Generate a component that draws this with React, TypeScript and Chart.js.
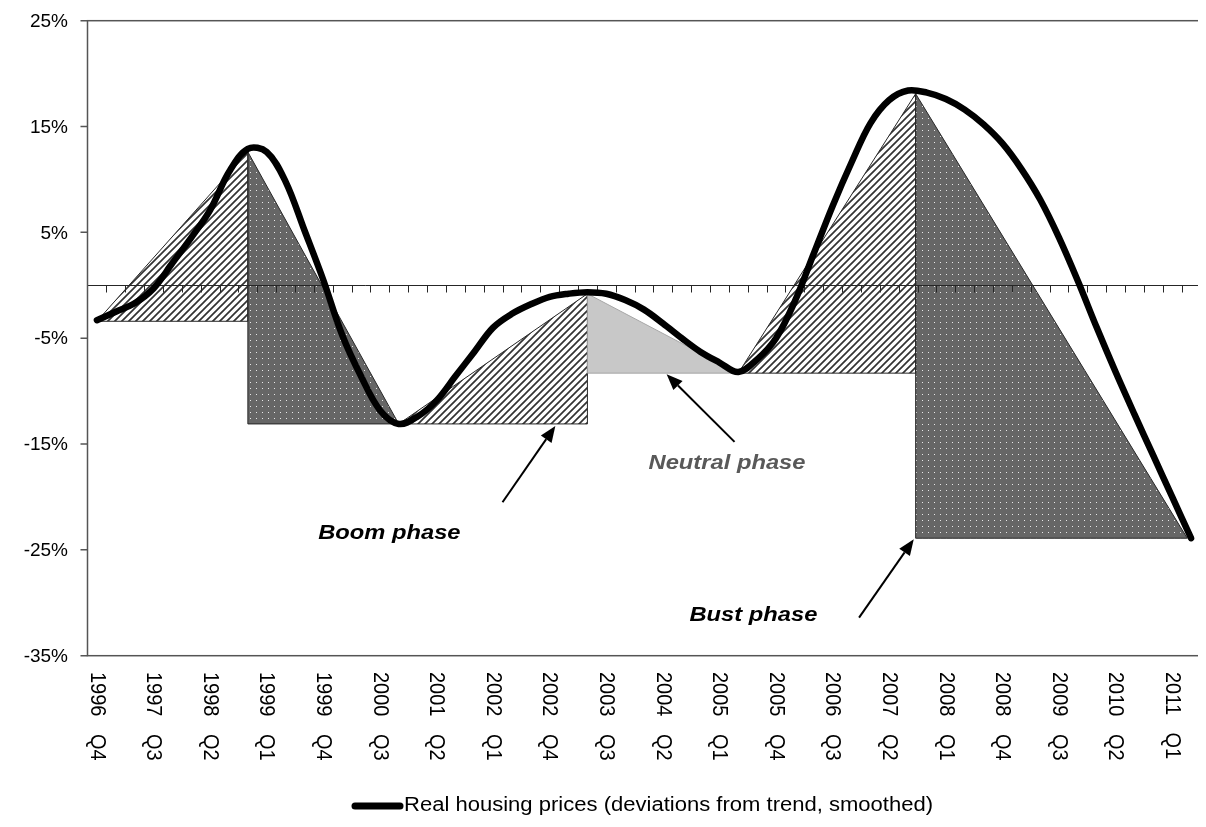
import React, { useEffect, useRef } from 'react';
import { Chart, registerables } from 'chart.js';

Chart.register(...registerables);

// ---------------- data ----------------
const quarters = [
  '1996 Q4',
  '1997 Q1', '1997 Q2', '1997 Q3', '1997 Q4',
  '1998 Q1', '1998 Q2', '1998 Q3', '1998 Q4',
  '1999 Q1', '1999 Q2', '1999 Q3', '1999 Q4',
  '2000 Q1', '2000 Q2', '2000 Q3', '2000 Q4',
  '2001 Q1', '2001 Q2', '2001 Q3', '2001 Q4',
  '2002 Q1', '2002 Q2', '2002 Q3', '2002 Q4',
  '2003 Q1', '2003 Q2', '2003 Q3', '2003 Q4',
  '2004 Q1', '2004 Q2', '2004 Q3', '2004 Q4',
  '2005 Q1', '2005 Q2', '2005 Q3', '2005 Q4',
  '2006 Q1', '2006 Q2', '2006 Q3', '2006 Q4',
  '2007 Q1', '2007 Q2', '2007 Q3', '2007 Q4',
  '2008 Q1', '2008 Q2', '2008 Q3', '2008 Q4',
  '2009 Q1', '2009 Q2', '2009 Q3', '2009 Q4',
  '2010 Q1', '2010 Q2', '2010 Q3', '2010 Q4',
  '2011 Q1', '2011 Q2',
];
const labelEvery = 3;

// Real housing prices, deviation from trend (%), smoothed
const housePrices = [
  -3.3, -2.5, -1.7, -0.3, 2.1, 4.5, 7.1, 10.7, 12.9, 12.6,
  9.8, 5.2, 0.5, -4.7, -8.6, -11.8, -13.1, -12.4, -10.9, -8.6,
  -6.3, -4.0, -2.7, -1.8, -1.1, -0.8, -0.65, -0.8, -1.4, -2.3,
  -3.6, -5.0, -6.3, -7.3, -8.2, -7.0, -5.0, -1.5, 3.0, 7.5,
  11.6, 15.3, 17.5, 18.4, 18.2, 17.6, 16.6, 15.2, 13.4, 11.0,
  8.1, 4.5, 0.4, -4.0, -8.2, -12.2, -16.1, -20.0, -23.9,
];

// Phase triangles (quarter index, value %)
const phaseKind = ['boom', 'bust', 'boom', 'neutral', 'boom', 'bust'];
const phaseStartQ = [0, 8, 16, 26, 34, 43.4];
const phaseStartV = [-3.4, 12.6, -13.1, -0.8, -8.3, 18.1];
const phaseEndQ = [8, 16, 26, 34, 43.4, 57.8];
const phaseEndV = [12.6, -13.1, -0.8, -8.3, 18.1, -23.9];

const yTicks = [-35, -25, -15, -5, 5, 15, 25];
const yMin = -35;
const yMax = 25;

// Annotations (anchored in data coordinates)
const noteText = ['Boom phase', 'Neutral phase', 'Bust phase'];
const noteColor = ['#000000', '#595959', '#000000'];
const noteQ = [15.5, 33.4, 34.8];
const noteV = [-23.4, -16.8, -31.2];
const arrowFromQ = [21.5, 33.8, 40.4];
const arrowFromV = [-20.5, -14.8, -31.4];
const arrowToQ = [24.3, 30.2, 43.3];
const arrowToV = [-13.3, -8.4, -24.0];

const seriesLabel = 'Real housing prices (deviations from trend, smoothed)';

// ---------------- layout ----------------
const W = 1198;
const H = 810;
const PLOT_LEFT = 79.5;
const PLOT_RIGHT = 1192.5;
const PLOT_TOP = 12.7;
const PLOT_BOTTOM = 647.7;
const STRETCH = 1.13;
const FONT = '"Liberation Sans", Arial, sans-serif';

function makeHatch() {
  const s = 7;
  const c = document.createElement('canvas');
  c.width = s;
  c.height = s;
  const g = c.getContext('2d')!;
  g.fillStyle = '#ffffff';
  g.fillRect(0, 0, s, s);
  g.strokeStyle = '#333333';
  g.lineWidth = 1.7;
  g.beginPath();
  g.moveTo(-1, s + 1);
  g.lineTo(s + 1, -1);
  g.moveTo(-1, 1);
  g.lineTo(1, -1);
  g.moveTo(s - 1, s + 1);
  g.lineTo(s + 1, s - 1);
  g.stroke();
  return g.createPattern(c, 'repeat');
}

function makeDots() {
  const s = 6;
  const c = document.createElement('canvas');
  c.width = s;
  c.height = s;
  const g = c.getContext('2d')!;
  g.fillStyle = '#666666';
  g.fillRect(0, 0, s, s);
  g.fillStyle = '#e8e8e8';
  g.fillRect(2, 2, 1, 1);
  return g.createPattern(c, 'repeat');
}

function stretchedText(ctx: CanvasRenderingContext2D, text: string, x: number, y: number, sx: number) {
  ctx.save();
  ctx.translate(x, y);
  ctx.scale(sx, 1);
  ctx.fillText(text, 0, 0);
  ctx.restore();
}

const decor = {
  id: 'decor',
  beforeDatasetDraw(chart: any, args: any) {
    if (args.index !== 0) return;
    const ctx: CanvasRenderingContext2D = chart.ctx;
    const xs = chart.scales.x;
    const ys = chart.scales.y;
    const area = chart.chartArea;
    ctx.save();
    // triangle outlines
    for (let p = 0; p < phaseKind.length; p++) {
      const x0 = xs.getPixelForValue(phaseStartQ[p]);
      const y0 = ys.getPixelForValue(phaseStartV[p]);
      const x1 = xs.getPixelForValue(phaseEndQ[p]);
      const y1 = ys.getPixelForValue(phaseEndV[p]);
      const rising = phaseEndV[p] > phaseStartV[p];
      const cx = rising ? x1 : x0;
      const cy = rising ? y0 : y1;
      ctx.strokeStyle = phaseKind[p] === 'neutral' ? '#a6a6a6' : '#262626';
      ctx.lineWidth = 1;
      ctx.beginPath();
      ctx.moveTo(x0, y0);
      ctx.lineTo(x1, y1);
      ctx.lineTo(cx, cy);
      ctx.closePath();
      ctx.stroke();
    }
    // zero line with quarter tick marks
    const y0 = Math.round(ys.getPixelForValue(0)) + 0.5;
    ctx.strokeStyle = '#262626';
    ctx.lineWidth = 1;
    ctx.beginPath();
    ctx.moveTo(area.left, y0);
    ctx.lineTo(area.right, y0);
    for (let k = 1; k < quarters.length; k++) {
      const x = Math.round(xs.getPixelForValue(k - 0.5)) + 0.5;
      ctx.moveTo(x, y0);
      ctx.lineTo(x, y0 + 7);
    }
    ctx.stroke();
    ctx.restore();
  },
  afterDraw(chart: any) {
    const ctx: CanvasRenderingContext2D = chart.ctx;
    const xs = chart.scales.x;
    const ys = chart.scales.y;
    const area = chart.chartArea;
    ctx.save();
    // plot frame
    ctx.strokeStyle = '#555555';
    ctx.lineWidth = 1.5;
    ctx.strokeRect(area.left, area.top, area.right - area.left, area.bottom - area.top);
    // y ticks + labels
    ctx.fillStyle = '#000';
    ctx.font = `19px ${FONT}`;
    ctx.textAlign = 'right';
    ctx.textBaseline = 'middle';
    ctx.beginPath();
    for (const v of yTicks) {
      const y = ys.getPixelForValue(v);
      ctx.moveTo(area.left - 7, y);
      ctx.lineTo(area.left, y);
      ctx.fillText(`${v}%`, area.left - 19.5, y + 1);
    }
    ctx.stroke();
    // x labels rotated clockwise
    ctx.font = `20px ${FONT}`;
    ctx.textAlign = 'left';
    ctx.textBaseline = 'middle';
    (ctx as any).wordSpacing = '12px';
    for (let i = 0; i < quarters.length; i += labelEvery) {
      const x = xs.getPixelForValue(i);
      ctx.save();
      ctx.translate(x, area.bottom + 16.3);
      ctx.rotate(Math.PI / 2);
      ctx.scale(1, STRETCH);
      ctx.fillText(quarters[i], 0, 0);
      ctx.restore();
    }
    (ctx as any).wordSpacing = '0px';
    // annotations
    for (let n = 0; n < noteText.length; n++) {
      const fx = xs.getPixelForValue(arrowFromQ[n]);
      const fy = ys.getPixelForValue(arrowFromV[n]);
      const tx = xs.getPixelForValue(arrowToQ[n]);
      const ty = ys.getPixelForValue(arrowToV[n]);
      const ang = Math.atan2(ty - fy, tx - fx);
      const headL = 16;
      const headW = 6.5;
      const bx = tx - Math.cos(ang) * headL;
      const by = ty - Math.sin(ang) * headL;
      ctx.strokeStyle = '#000';
      ctx.lineWidth = 2;
      ctx.beginPath();
      ctx.moveTo(fx, fy);
      ctx.lineTo(bx, by);
      ctx.stroke();
      ctx.fillStyle = '#000';
      ctx.beginPath();
      ctx.moveTo(tx, ty);
      ctx.lineTo(bx - Math.sin(ang) * headW, by + Math.cos(ang) * headW);
      ctx.lineTo(bx + Math.sin(ang) * headW, by - Math.cos(ang) * headW);
      ctx.closePath();
      ctx.fill();

      ctx.fillStyle = noteColor[n];
      ctx.font = `italic bold 21px ${FONT}`;
      ctx.textAlign = 'center';
      ctx.textBaseline = 'middle';
      stretchedText(ctx, noteText[n], xs.getPixelForValue(noteQ[n]), ys.getPixelForValue(noteV[n]), STRETCH);
    }
    // legend
    const ly = 798;
    ctx.strokeStyle = '#000';
    ctx.lineWidth = 7;
    ctx.lineCap = 'round';
    ctx.beginPath();
    ctx.moveTo(347, ly);
    ctx.lineTo(392, ly);
    ctx.stroke();
    ctx.fillStyle = '#000';
    ctx.font = `19.5px ${FONT}`;
    ctx.textAlign = 'left';
    ctx.textBaseline = 'middle';
    stretchedText(ctx, seriesLabel, 396, ly, STRETCH);
    ctx.restore();
  },
};

export default function App() {
  const ref = useRef<HTMLCanvasElement>(null);
  useEffect(() => {
    const canvas = ref.current;
    if (!canvas) return;
    const hatch = makeHatch();
    const dots = makeDots();
    const fills: Record<string, any> = { boom: hatch, bust: dots, neutral: '#c8c8c8' };

    const mainData = housePrices.map((v, i) => ({ x: i, y: v }));
    const triangleSets = phaseKind.map((kind, p) => ({
      label: kind,
      data: [
        { x: phaseStartQ[p], y: phaseStartV[p] },
        { x: phaseEndQ[p], y: phaseEndV[p] },
      ],
      borderWidth: 0,
      borderColor: 'rgba(0,0,0,0)',
      backgroundColor: fills[kind],
      fill: { value: Math.min(phaseStartV[p], phaseEndV[p]) },
      pointRadius: 0,
      tension: 0,
      order: 1,
    }));

    const chart = new Chart(canvas, {
      type: 'line',
      data: {
        datasets: [
          {
            label: seriesLabel,
            data: mainData,
            borderColor: '#000000',
            borderWidth: 6.5,
            borderCapStyle: 'round',
            borderJoinStyle: 'round',
            pointRadius: 0,
            tension: 0.35,
            fill: false,
            order: 0,
          },
          ...triangleSets,
        ] as any,
      },
      options: {
        animation: false,
        responsive: false,
        devicePixelRatio: 1,
        layout: {
          padding: { top: PLOT_TOP, right: W - PLOT_RIGHT, bottom: 0, left: 0 },
        },
        plugins: {
          legend: { display: false },
          tooltip: { enabled: false },
        },
        scales: {
          x: {
            type: 'linear',
            min: -0.5,
            max: quarters.length - 0.5,
            ticks: { display: false },
            grid: { display: false },
            border: { display: false },
            afterFit: (s: any) => {
              s.height = H - PLOT_BOTTOM;
            },
          },
          y: {
            type: 'linear',
            min: yMin,
            max: yMax,
            ticks: { display: false, stepSize: 10 },
            grid: { display: false },
            border: { display: false },
            afterFit: (s: any) => {
              s.width = PLOT_LEFT;
            },
          },
        },
      } as any,
      plugins: [decor],
    });
    return () => chart.destroy();
  }, []);

  return (
    <div style={{ width: W, height: H }}>
      <canvas ref={ref} width={W} height={H} style={{ display: 'block', width: W, height: H }} />
    </div>
  );
}
